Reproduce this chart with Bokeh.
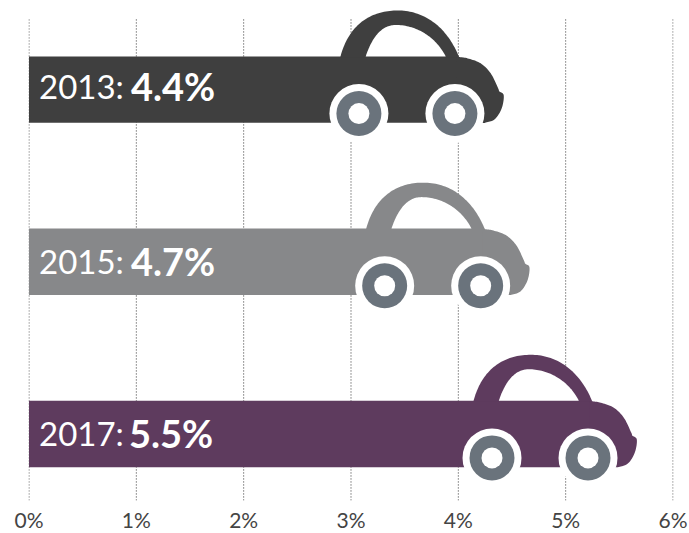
import numpy as np
from bokeh.embed import file_html
from bokeh.resources import INLINE
from bokeh.plotting import figure
from bokeh.models import Range1d, FixedTicker
from bokeh.core.properties import value

years = ["2013", "2015", "2017"]
shares = [4.4, 4.7, 5.5]
car_reach = [4.42, 4.66, 5.66]
colors = ["#3f3f3f", "#87888a", "#5e3b5e"]
tick_values = [0, 1, 2, 3, 4, 5, 6]
tick_labels = ["0%", "1%", "2%", "3%", "4%", "5%", "6%"]

WHEEL = "#6a737c"
PX_X = 644.0 / 6.0
PX_Y = 172.5
TIP, MID = 502.7, 89.3
GRID_TOP, GRID_BOTTOM = (19 - MID) / PX_Y, (501 - MID) / PX_Y

p = figure(width=697, height=542, margin=(-8, 0, -9, -8), output_backend="svg",
           toolbar_location=None, x_range=Range1d(-0.5 / PX_X, 6 + 0.5 / PX_X),
           y_range=Range1d(GRID_BOTTOM, (0 - MID) / PX_Y),
           min_border_left=36, min_border_right=16, min_border_top=8, min_border_bottom=32,
           outline_line_color=None, background_fill_color="white")
p.ygrid.visible = False
p.xgrid.visible = False
p.yaxis.visible = False
ax = p.xaxis[0]
ax.ticker = FixedTicker(ticks=tick_values)
ax.major_label_overrides = {t: l for t, l in zip(tick_values, tick_labels)}
ax.axis_line_color = None
ax.major_tick_line_color = None
ax.minor_tick_line_color = None
ax.major_label_text_font = "Lato"
ax.major_label_text_font_size = "21px"
ax.major_label_text_color = "#444444"
ax.major_label_standoff = 0

p.segment(x0=tick_values, x1=tick_values, y0=GRID_TOP, y1=GRID_BOTTOM,
          line_color="#333333", line_dash="1 2", line_width=1)


def smooth(pts, n=10):
    a = np.array(pts, dtype=float)
    a = np.vstack([2 * a[0] - a[1], a, 2 * a[-1] - a[-2]])
    out = []
    for i in range(1, len(a) - 2):
        p0, p1, p2, p3 = a[i - 1], a[i], a[i + 1], a[i + 2]
        for t in np.linspace(0, 1, n, endpoint=False):
            out.append(0.5 * (2 * p1 + (p2 - p0) * t + (2 * p0 - 5 * p1 + 4 * p2 - p3) * t ** 2
                              + (3 * p1 - p0 - 3 * p2 + p3) * t ** 3))
    out.append(a[-2])
    return np.array(out)


def curve(*ctrl, n=40):
    out = []
    for i in range(0, len(ctrl) - 1, 3):
        a, b, c, d = (np.array(q, dtype=float) for q in ctrl[i:i + 4])
        for t in np.linspace(0, 1, n, endpoint=False):
            out.append((1 - t) ** 3 * a + 3 * (1 - t) ** 2 * t * b + 3 * (1 - t) * t ** 2 * c + t ** 3 * d)
    out.append(np.array(ctrl[-1], dtype=float))
    return np.array(out)


ROOF = curve((339.5, 57), (348, 24), (370, 10), (397, 10), (425, 10), (447, 28), (458.5, 57))
HOOD = np.vstack([smooth([(458, 56.5), (467, 58), (480, 63), (490, 73), (497, 87), (498.5, 91)]),
                  smooth([(498.5, 91), (503, 95), (501, 108), (494, 119), (484, 122.7)]),
                  [(456, 122.7), (456, 56.5)]])
GLASS = curve((365, 56), (372, 35), (382, 24.5), (395, 24.5), (417, 24.5), (436, 38), (445, 56))
FRONT_DX, REAR_DX, WHEEL_DY = -144.5, -48.5, 24.0


def place(shape, reach, row):
    return (reach + (shape[:, 0] - TIP) / PX_X).tolist(), (row + (shape[:, 1] - MID) / PX_Y).tolist()


rows = list(range(len(years)))
p.hbar(y=rows, left=0, right=[c + (458 - TIP) / PX_X for c in car_reach], height=66.6 / PX_Y,
       color=colors, line_color=None)

for row, reach, col in zip(rows, car_reach, colors):
    for shape, fill in ((ROOF, col), (HOOD, col), (GLASS, "white")):
        xs, ys = place(shape, reach, row)
        p.patch(xs, ys, fill_color=fill, line_color=None)
    wx = [reach + FRONT_DX / PX_X, reach + REAR_DX / PX_X]
    wy = [row + WHEEL_DY / PX_Y] * 2
    p.scatter(wx, wy, size=59, color="white", line_color=None)
    p.scatter(wx, wy, size=45, color=WHEEL, line_color=None)
    p.scatter(wx, wy, size=21, color="white", line_color=None)

bold_offset = [102, 102, 100]
mid_offset = [-4, -1, -1]
for row, year, share, off, mid in zip(rows, years, shares, bold_offset, mid_offset):
    p.text([0], [row], text=[f"{year}:"], x_offset=10, y_offset=mid, text_baseline="middle",
           text_color="white", text_font=value("Lato"), text_font_size="33px")
    p.text([0], [row], text=[f"{share}%"], x_offset=off, y_offset=mid, text_baseline="middle",
           text_color="white", text_font=value("Lato"), text_font_style="bold", text_font_size="38px")

open("out.html", "w").write(file_html(p, INLINE))
